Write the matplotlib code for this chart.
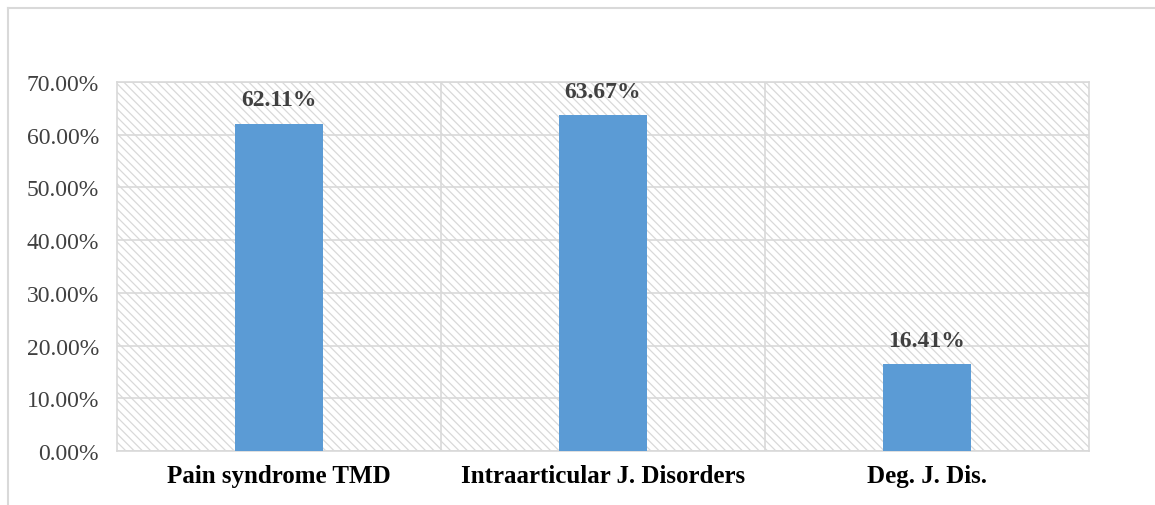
import matplotlib
matplotlib.use('Agg')
import matplotlib.pyplot as plt
from matplotlib.patches import Rectangle
from matplotlib.lines import Line2D

# Share of each TMD diagnostic group
categories = ['Pain syndrome TMD', 'Intraarticular J. Disorders', 'Deg. J. Dis.']
percent = [62.11, 63.67, 16.41]
y_ticks = [0, 10, 20, 30, 40, 50, 60, 70]

plt.rcParams['font.family'] = ['Liberation Serif', 'DejaVu Serif']
plt.rcParams['hatch.linewidth'] = 0.9
plt.rcParams['hatch.color'] = '#d9d9d9'

fig = plt.figure(figsize=(11.55, 5.06), dpi=100)
ax = fig.add_axes([0.1013, 0.1067, 0.8416, 0.7293])

# hatched plot background
ax.add_patch(Rectangle((0, 0), 1, 1, transform=ax.transAxes, facecolor='white',
                       edgecolor='#d9d9d9', hatch='\\\\\\\\', linewidth=0, zorder=0))

x = range(len(categories))
bars = ax.bar(x, percent, width=0.27, color='#5B9BD5', zorder=3)

for b, v in zip(bars, percent):
    ax.text(b.get_x() + b.get_width() / 2, v + 2.6, f'{v:.2f}%', ha='center', va='bottom',
            fontsize=17, fontweight='bold', color='#404040', zorder=4)

ax.set_xlim(-0.5, len(categories) - 0.5)
ax.set_ylim(0, 70)
ax.set_yticks(y_ticks)
ax.set_yticklabels([f'{t:.2f}%' for t in y_ticks], fontsize=17, color='#404040')
ax.set_xticks(list(x))
ax.set_xticklabels(categories, fontsize=18, fontweight='bold', color='black')
ax.tick_params(axis='both', length=0)
ax.tick_params(axis='y', pad=13)
ax.tick_params(axis='x', pad=9)

# gridlines: horizontal at each tick, vertical between categories
for t in y_ticks:
    ax.axhline(t, color='#d9d9d9', linewidth=1.2, zorder=1)
for b in [0.5, 1.5]:
    ax.axvline(b, color='#d9d9d9', linewidth=1.2, zorder=1)
for s in ax.spines.values():
    s.set_color('#d9d9d9')
    s.set_linewidth(1.2)

# outer frame lines
fig.add_artist(Line2D([8 / 1155, 1], [1 - 9 / 506, 1 - 9 / 506], color='#d9d9d9', linewidth=1.5))
fig.add_artist(Line2D([8 / 1155, 8 / 1155], [1 - 9 / 506, 0], color='#d9d9d9', linewidth=1.5))

fig.savefig('out.png', dpi=100)
